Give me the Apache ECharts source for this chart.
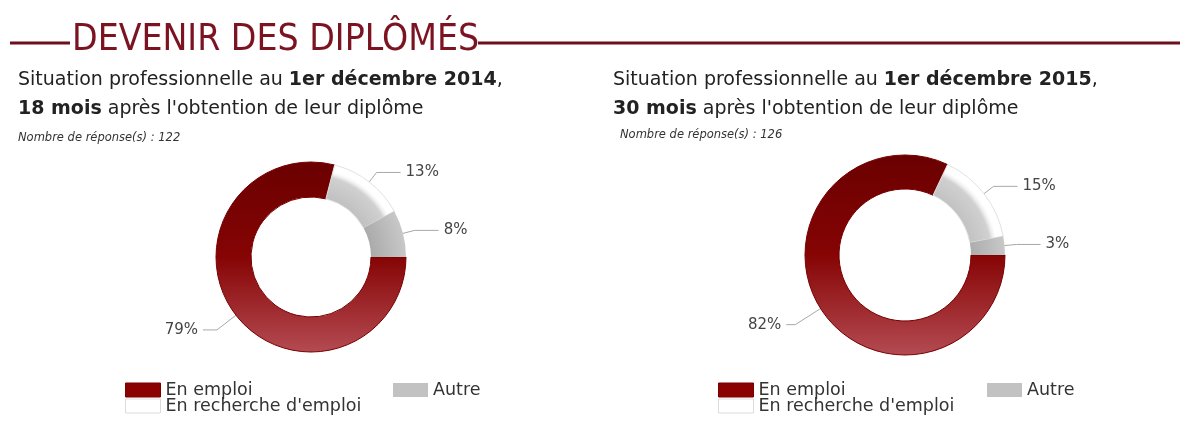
<!DOCTYPE html>
<html>
<head>
<meta charset="utf-8">
<script src="https://cdn.jsdelivr.net/npm/echarts@6/dist/echarts.min.js"></script>
<style>
  html, body { margin: 0; padding: 0; background: #fff; }
  #main { width: 1188px; height: 425px; }
</style>
</head>
<body>
<div id="main"></div>
<script>
var pageTitle = 'DEVENIR DES DIPLÔMÉS';
var categories = ['En emploi', "En recherche d'emploi", 'Autre'];
var share2014 = [79, 13, 8];
var share2015 = [82, 15, 3];
var responses = [122, 126];
var dates = ['1er décembre 2014', '1er décembre 2015'];
var delays = ['18 mois', '30 mois'];

var myChart = echarts.init(document.getElementById('main'));

// centres et rayons des deux anneaux
var pies = [
    { center: [311, 257], radius: [60, 95], left: 18, noteLeft: 18, noteTop: 132, legendLeft: 125, legendRight: 393, mainLine: { length: 24, length2: 14 } },
    { center: [905, 255], radius: [66, 100], left: 613, noteLeft: 620, noteTop: 129, legendLeft: 718, legendRight: 987, mainLine: { length: 30, length2: 9 } }
];

function ringGradient(p, stops) {
    return {
        type: 'radial', x: p.center[0], y: p.center[1], r: p.radius[1], global: true,
        colorStops: stops
    };
}

function buildData(values, p) {
    return values.map(function (v, i) {
        var item = { name: categories[i], value: v };
        if (i === 0) {
            item.itemStyle = {
                color: new echarts.graphic.LinearGradient(0, 0, 0, 1, [
                    { offset: 0, color: '#6a0000' },
                    { offset: 0.5, color: '#860404' },
                    { offset: 1, color: '#b44b53' }
                ]),
                borderColor: '#780000',
                borderWidth: 1
            };
            item.labelLine = p.mainLine;
        } else if (i === 1) {
            item.itemStyle = {
                color: ringGradient(p, [
                    { offset: 0.6, color: '#bebebe' },
                    { offset: 0.86, color: '#d0d0d0' },
                    { offset: 0.9, color: '#f2f2f2' },
                    { offset: 0.93, color: '#ffffff' },
                    { offset: 1, color: '#ffffff' }
                ]),
                borderColor: '#e2e2e2',
                borderWidth: 1
            };
        } else {
            item.itemStyle = {
                color: ringGradient(p, [
                    { offset: 0.6, color: '#a8a8a8' },
                    { offset: 1, color: '#c8c8c8' }
                ])
            };
        }
        return item;
    });
}

var titles = [{
    text: pageTitle,
    left: 72,
    top: 22,
    padding: 0,
    textStyle: { fontFamily: 'DejaVu Sans Condensed', fontSize: 37, fontWeight: 'normal', color: '#7b1321' }
}];

var legends = [];

pies.forEach(function (p, k) {
    titles.push({
        text: '{n|Situation professionnelle au }{b|' + dates[k] + '}{n|,}\n{b|' + delays[k] + '}{n| après l\'obtention de leur diplôme}',
        left: p.left,
        top: 66,
        padding: 0,
        textStyle: {
            fontWeight: 'normal',
            rich: {
                n: { fontFamily: 'DejaVu Sans', fontSize: 19, fontWeight: 'normal', color: '#222', lineHeight: 29 },
                b: { fontFamily: 'DejaVu Sans', fontSize: 19, fontWeight: 'bold', color: '#222', lineHeight: 29 }
            }
        }
    });
    titles.push({
        text: 'Nombre de réponse(s) : ' + responses[k],
        left: p.noteLeft,
        top: p.noteTop,
        padding: 0,
        textStyle: { fontFamily: 'DejaVu Sans', fontSize: 11.5, fontStyle: 'italic', fontWeight: 'normal', color: '#333' }
    });

    var swatches = [
        { name: categories[0], left: p.legendLeft, top: 381, itemStyle: { color: '#8b0000', borderColor: '#7a0000', borderWidth: 1 } },
        { name: categories[2], left: p.legendRight, top: 381, itemStyle: { color: '#c2c2c2', borderWidth: 0 } },
        { name: categories[1], left: p.legendLeft, top: 397, itemStyle: { color: '#ffffff', borderColor: '#dcdcdc', borderWidth: 1 } }
    ];
    swatches.forEach(function (s) {
        legends.push({
            left: s.left,
            top: s.top,
            padding: 0,
            icon: 'rect',
            itemWidth: 35,
            itemHeight: 14,
            itemGap: 8,
            textStyle: { fontFamily: 'DejaVu Sans', fontSize: 17.5, color: '#333' },
            data: [{ name: s.name, itemStyle: s.itemStyle }]
        });
    });
});

var option = {
    backgroundColor: '#ffffff',
    animation: false,
    title: titles,
    legend: legends,
    graphic: [
        { type: 'line', shape: { x1: 10, y1: 43, x2: 70, y2: 43 }, style: { stroke: '#6e0f1c', lineWidth: 3 } },
        { type: 'line', shape: { x1: 478, y1: 43, x2: 1180, y2: 43 }, style: { stroke: '#6e0f1c', lineWidth: 3 } }
    ],
    series: pies.map(function (p, k) {
        return {
            type: 'pie',
            center: p.center,
            radius: p.radius,
            startAngle: 0,
            clockwise: true,
            avoidLabelOverlap: true,
            label: {
                show: true,
                formatter: '{c}%',
                fontFamily: 'DejaVu Sans',
                fontSize: 15,
                color: '#444'
            },
            labelLine: {
                show: true,
                length: 12,
                length2: 24,
                lineStyle: { color: '#a8a8a8', width: 1 }
            },
            emphasis: { disabled: true },
            data: buildData(k === 0 ? share2014 : share2015, p)
        };
    })
};

myChart.setOption(option);
</script>
</body>
</html>
